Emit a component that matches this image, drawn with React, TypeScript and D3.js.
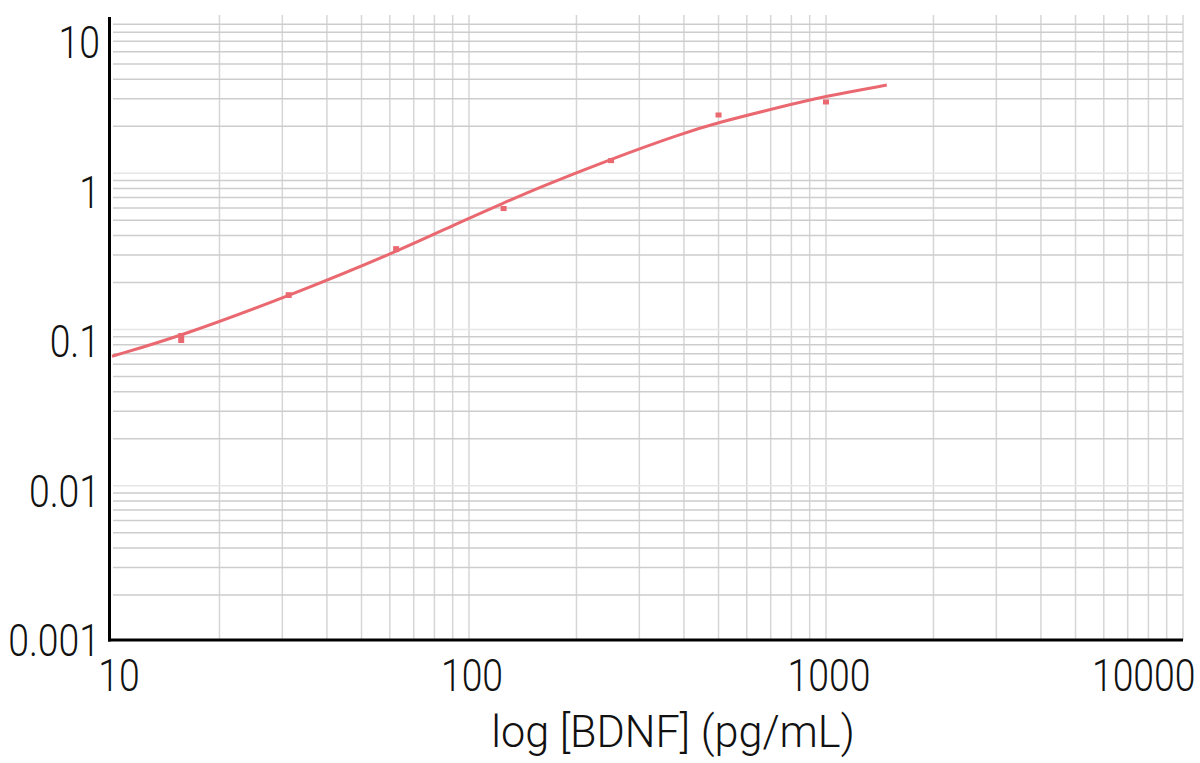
import * as d3 from "d3";

// standards: concentration (pg/mL) and mean OD with spread
const stdConc = [15.625, 31.25, 62.5, 125, 250, 500, 1000];
const stdOd = [0.105, 0.203, 0.412, 0.77, 1.61, 3.25, 3.97];
const stdSd = [0.008, 0.009, 0.019, 0.03, 0.06, 0, 0];

// fitted curve
const fitConc = [10, 15.6, 31.25, 62.5, 94.4, 125, 158, 250, 390, 500, 743, 1000, 1480];
const fitOd = [0.079, 0.108, 0.2, 0.394, 0.625, 0.838, 1.07, 1.65, 2.42, 2.9, 3.67, 4.35, 5.15];

const xTicks = [10, 100, 1000, 10000];
const xTickLabels = ["10", "100", "1000", "10000"];
const yTicks = [0.001, 0.01, 0.1, 1, 10];
const yTickLabels = ["0.001", "0.01", "0.1", "1", "10"];
const xTitle = "log [BDNF] (pg/mL)";

const W = 1200;
const H = 763;
const red = "#ea6870";
const font = "Roboto, 'Open Sans', sans-serif";
const fs = 45;
const squeeze = 0.83;

export default function App() {
  const x = d3.scaleLog().domain([10, 10000]).range([112, 1183]);
  // labels and points
  const y = d3.scaleLog().domain([0.001, 10]).range([640, 42]);
  // the grid behind sits on its own, slightly taller, scale
  const yGrid = d3.scaleLog().domain([0.001, 10]).range([642, 17]);

  const xGridVals: number[] = [];
  [10, 100, 1000].forEach((d) => d3.range(1, 10).forEach((m) => xGridVals.push(d * m)));
  xGridVals.push(10000);
  const yGridVals: number[] = [];
  [0.001, 0.01, 0.1, 1].forEach((d) => d3.range(1, 10).forEach((m) => yGridVals.push(d * m)));

  const line = d3
    .line<number>()
    .x((_, i) => x(fitConc[i]))
    .y((d) => y(d))
    .curve(d3.curveBasis);

  return (
    <svg
      width={W}
      height={H}
      style={{ position: "fixed", left: 0, top: 0, background: "#fff" }}
    >
      <g>
        {xGridVals.slice(1).map((v, i) => (
          <line
            key={"vx" + i}
            x1={x(v)}
            x2={x(v)}
            y1={15}
            y2={640}
            stroke="#d6d6d6"
            strokeWidth={1.5}
          />
        ))}
        {yGridVals.slice(1).map((v, i) => (
          <line
            key={"hy" + i}
            x1={113}
            x2={1183}
            y1={yGrid(v)}
            y2={yGrid(v)}
            stroke={Math.abs(Math.log10(v) % 1) < 1e-9 ? "#e6e6e6" : "#cdcdcd"}
            strokeWidth={1.5}
          />
        ))}
      </g>

      <path d={line(fitOd) ?? ""} fill="none" stroke={red} strokeWidth={3} />

      {stdConc.map((c, i) => {
        const top = y(stdOd[i] + stdSd[i]);
        const bot = y(Math.max(stdOd[i] - stdSd[i], 1e-4));
        const h = Math.max(bot - top, 5);
        const mid = (top + bot) / 2;
        return (
          <rect
            key={"p" + i}
            x={x(c) - 3}
            y={mid - h / 2}
            width={6}
            height={h}
            fill={red}
          />
        );
      })}

      <line x1={109.5} x2={109.5} y1={17} y2={641.5} stroke="#000" strokeWidth={3} />
      <line x1={108} x2={1183} y1={640} y2={640} stroke="#000" strokeWidth={3} />

      {yTicks.map((t, i) => (
        <text
          key={"yl" + i}
          transform={`translate(100,${y(t) + 16}) scale(${squeeze},1)`}
          textAnchor="end"
          fontFamily={font}
          fontWeight={300}
          fontSize={fs}
          fill="#111"
        >
          {yTickLabels[i]}
        </text>
      ))}

      {xTicks.map((t, i) => {
        const half = (xTickLabels[i].length * 0.56 * fs * squeeze) / 2;
        const cx = Math.min(Math.max(x(t) + 3, 98 + half), 1196 - half);
        return (
          <text
            key={"xl" + i}
            transform={`translate(${cx},691) scale(${squeeze},1)`}
            textAnchor="middle"
            fontFamily={font}
            fontWeight={300}
            fontSize={fs}
            fill="#111"
          >
            {xTickLabels[i]}
          </text>
        );
      })}

      <text
        transform={`translate(673,747) scale(0.96,1)`}
        textAnchor="middle"
        fontFamily={font}
        fontWeight={300}
        fontSize={fs}
        fill="#111"
      >
        {xTitle}
      </text>
    </svg>
  );
}
